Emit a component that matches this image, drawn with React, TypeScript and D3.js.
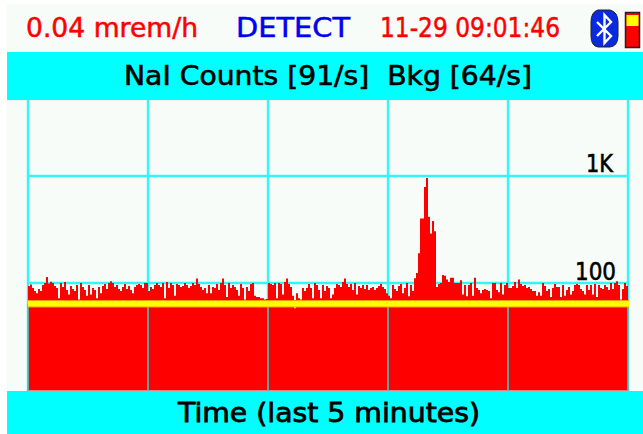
import React from "react";
import * as d3 from "d3";

const W = 643, H = 434;
const values: number[] = [
94,97,90,84,80,88,84,96,100,114,99,103,100,94,90,72,100,92,102,86,
78,94,88,84,96,70,100,92,86,76,96,78,90,86,72,92,80,94,98,88,
100,104,100,92,96,88,84,92,98,88,94,86,80,92,96,98,96,90,100,100,
84,92,88,96,100,96,92,100,72,102,90,100,96,76,98,96,92,94,100,96,
90,94,100,96,110,98,92,86,90,80,96,80,92,90,98,86,100,110,96,74,
100,90,96,92,86,76,98,90,70,92,84,98,100,76,74,74,72,72,70,71,
100,98,96,100,72,100,98,78,102,110,98,92,76,58,80,72,70,90,84,90,
98,90,72,100,96,86,72,96,84,94,90,72,78,90,98,96,92,102,110,98,
92,98,86,100,78,94,90,96,88,96,86,90,92,86,90,94,98,92,88,80,
76,72,96,88,84,94,98,80,90,100,75,96,84,111,124,190,400,400,790,960,
415,290,380,305,92,98,100,119,117,108,102,112,112,100,100,100,106,78,96,75,
96,100,76,112,90,86,80,86,88,86,84,72,100,100,86,82,100,78,96,100,
90,90,94,102,90,108,98,94,96,90,92,88,84,84,76,82,76,100,94,84,
88,74,90,98,92,92,74,96,76,86,92,78,84,96,98,96,88,84,78,96,
86,96,78,98,74,96,90,88,96,92,86,100,88,100,104,96,70,88,100,94,
];
const background = 64;
const yTickValues = [100, 1000];
const yTickLabels = ["100", "1K"];
const xGridSeconds = [0, 60, 120, 180, 240, 300];
const statusDose = "0.04 mrem/h";
const statusMode = "DETECT";
const statusTime = "11-29 09:01:46";
const headerTitle = "NaI Counts [91/s]  Bkg [64/s]";
const footerTitle = "Time (last 5 minutes)";

const PANEL = "#f7fcf9";
const CYAN = "#00ffff";
const GRID = "#33f6f6";
const FONT = "'DejaVu Sans', sans-serif";

export default function App() {
  const x = d3.scaleLinear().domain([0, 300]).range([28, 628]);
  const yy = d3.scaleLog().domain([100, 1000]).range([283, 176]);
  const area = d3.area<number>().x((_, i) => x(i)).y0(390.5).y1(d => yy(d)).curve(d3.curveStepAfter);
  const ext = [...values, values[values.length - 1]];
  return (
    <svg width={W} height={H} viewBox={`0 0 ${W} ${H}`} style={{ position: "fixed", left: 0, top: 0, background: "#fff", display: "block" }}>
      <rect x={7} y={4} width={W - 7} height={H - 4} fill={PANEL} />
      <rect x={7} y={52} width={W - 7} height={48} fill={CYAN} />
      <rect x={7} y={391} width={W - 7} height={43} fill={CYAN} />

      {xGridSeconds.map(s => (
        <line key={s} x1={x(s)} x2={x(s)} y1={100} y2={391} stroke={GRID} strokeWidth={2.4} />
      ))}
      {yTickValues.map(v => (
        <line key={v} x1={28} x2={629} y1={yy(v)} y2={yy(v)} stroke={GRID} strokeWidth={2.4} />
      ))}

      <path d={area(ext) ?? ""} fill="#ff0000" />
      {xGridSeconds.map(s => (
        <line key={"o" + s} x1={x(s)} x2={x(s)} y1={yy(background)} y2={391} stroke="#48c8c8" strokeWidth={1.6} />
      ))}
      <line x1={28} x2={629} y1={yy(background)} y2={yy(background)} stroke="#ff9a00" strokeWidth={7.5} />
      <line x1={28} x2={629} y1={yy(background)} y2={yy(background)} stroke="#ffff00" strokeWidth={5.5} />

      {yTickValues.map((v, i) => (
        <text key={v} x={i === 0 ? 616 : 613} y={yy(v) - (v === 100 ? 3 : 4)} textAnchor="end" fontFamily={FONT} fontSize={25} fill="#000" stroke="#000" strokeWidth={0.6} textLength={i === 0 ? 41 : 27} lengthAdjust="spacingAndGlyphs">{yTickLabels[i]}</text>
      ))}

      <g fontFamily={FONT} fontSize={26.5}>
        <text x={26} y={37} fill="#f00" textLength={172} lengthAdjust="spacingAndGlyphs" stroke="#f00" strokeWidth={0.5}>{statusDose}</text>
        <text x={236} y={37} fill="#0000ee" textLength={114} lengthAdjust="spacingAndGlyphs" stroke="#0000ee" strokeWidth={0.5}>{statusMode}</text>
        <text x={380} y={37} fill="#f00" textLength={180} lengthAdjust="spacingAndGlyphs" stroke="#f00" strokeWidth={0.5}>{statusTime}</text>
        <text x={124} y={85} fill="#000" textLength={408} lengthAdjust="spacingAndGlyphs" stroke="#000" strokeWidth={0.6} style={{ whiteSpace: "pre" }}>{headerTitle}</text>
        <text x={178} y={422} fill="#000" textLength={302} lengthAdjust="spacingAndGlyphs" stroke="#000" strokeWidth={0.8}>{footerTitle}</text>
      </g>

      <g>
        <path d="M598 10 Q591 12 591 22 L591 36 Q591 46 598 47 L610 47 Q618 46 618 36 L618 22 Q618 12 610 10 Z" fill="#0a2ae0" stroke="#222" strokeWidth={1} />
        <path d="M597 22 L611 36 L604.5 43 L604.5 15 L611 22 L597 36" fill="none" stroke="#fff" strokeWidth={2.4} />
        <rect x={625.5} y={12.5} width={14} height={35} fill="#f00" stroke="#222" strokeWidth={1.5} />
        <rect x={626.5} y={15} width={12} height={11} fill="#ffff00" />
      </g>
    </svg>
  );
}
